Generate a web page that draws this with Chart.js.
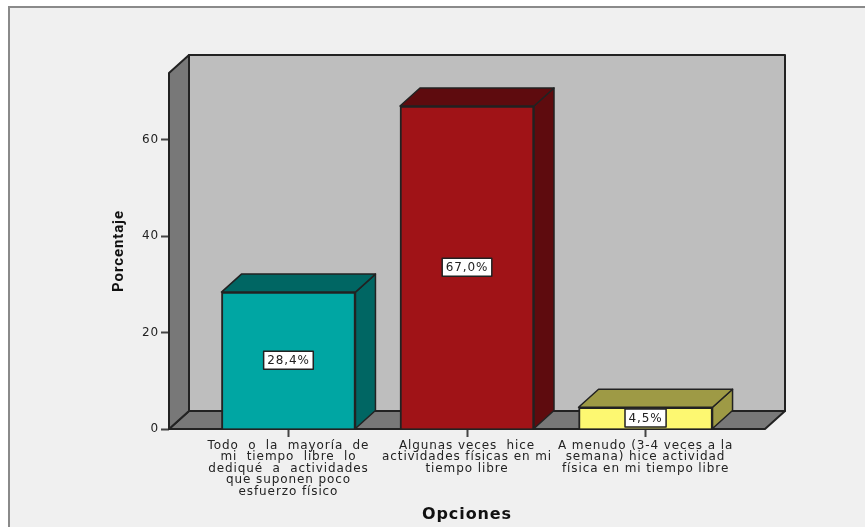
<!DOCTYPE html>
<html>
<head>
<meta charset="utf-8">
<title>Opciones</title>
<script src="https://cdn.jsdelivr.net/npm/chart.js@4"></script>
<style>
  html, body { margin: 0; padding: 0; background: #fff; }
  #frame { position: absolute; left: 8px; top: 6px; width: 857px; height: 521px; box-sizing: border-box;
           background: #f0f0f0; border-left: 2px solid #8a8a8a; border-top: 2px solid #8a8a8a; }
  canvas { position: absolute; left: 0; top: 0; }
</style>
</head>
<body>
<div id="frame"></div>
<canvas id="chart" width="865" height="527"></canvas>
<script>
// values
const categories = [
  ['Todo  o  la  mayoría  de', 'mi  tiempo  libre  lo', 'dediqué  a  actividades', 'que suponen poco', 'esfuerzo físico'],
  ['Algunas veces  hice', 'actividades físicas en mi', 'tiempo libre'],
  ['A menudo (3-4 veces a la', 'semana) hice actividad', 'física en mi tiempo libre']
];
const positions = [1, 2, 3];
const percentages = [28.4, 67.0, 4.5];
const frontColors = ['#00a6a3', '#a01317', '#fdf871'];
const darkColors = ['#006663', '#5e0b0e', '#9e9a45'];
const yTicks = [0, 20, 40, 60];

const DEPTH_X = 20, DEPTH_Y = 18;
const LINE = '#222222';

function poly(ctx, pts, fill) {
  ctx.beginPath();
  pts.forEach((p, i) => i ? ctx.lineTo(p[0], p[1]) : ctx.moveTo(p[0], p[1]));
  ctx.closePath();
  ctx.fillStyle = fill;
  ctx.fill();
  ctx.stroke();
}

// SPSS style 3D box: walls behind the bars, sides and tops on the bars
const box3d = {
  id: 'box3d',
  beforeDraw(chart) {
    // the original text is set wide
    chart.ctx.letterSpacing = '0.9px';
  },
  beforeDatasetsDraw(chart) {
    const { ctx, chartArea: a } = chart;
    const dx = DEPTH_X, dy = DEPTH_Y;
    ctx.save();
    ctx.strokeStyle = LINE;
    ctx.lineWidth = 2;
    ctx.lineJoin = 'round';
    poly(ctx, [[a.left + dx, a.top - dy], [a.right + dx, a.top - dy], [a.right + dx, a.bottom - dy], [a.left + dx, a.bottom - dy]], '#bebebe');
    poly(ctx, [[a.left, a.bottom], [a.right, a.bottom], [a.right + dx, a.bottom - dy], [a.left + dx, a.bottom - dy]], '#787878');
    poly(ctx, [[a.left, a.bottom], [a.left, a.top], [a.left + dx, a.top - dy], [a.left + dx, a.bottom - dy]], '#787878');
    ctx.restore();
  },
  afterDatasetsDraw(chart) {
    const { ctx } = chart;
    const dx = DEPTH_X, dy = DEPTH_Y;
    ctx.save();
    ctx.strokeStyle = LINE;
    ctx.lineWidth = 1.5;
    ctx.lineJoin = 'round';
    chart.getDatasetMeta(0).data.forEach((bar, i) => {
      const l = bar.x - bar.width / 2, r = bar.x + bar.width / 2;
      poly(ctx, [[r, bar.base], [r, bar.y], [r + dx, bar.y - dy], [r + dx, bar.base - dy]], darkColors[i]);
      poly(ctx, [[l, bar.y], [r, bar.y], [r + dx, bar.y - dy], [l + dx, bar.y - dy]], darkColors[i]);
    });
    // value boxes
    ctx.font = '12px "DejaVu Sans"';
    ctx.textAlign = 'center';
    ctx.textBaseline = 'middle';
    chart.getDatasetMeta(0).data.forEach((bar, i) => {
      const text = percentages[i].toFixed(1).replace('.', ',') + '%';
      const cy = (bar.y + bar.base) / 2;
      const w = ctx.measureText(text).width + 7;
      ctx.fillStyle = '#fff';
      ctx.fillRect(bar.x - w / 2, cy - 9, w, 18);
      ctx.lineWidth = 1.5;
      ctx.strokeRect(bar.x - w / 2, cy - 9, w, 18);
      ctx.fillStyle = '#222';
      ctx.fillText(text, bar.x, cy + 0.5);
    });
    ctx.restore();
  }
};

new Chart(document.getElementById('chart'), {
  type: 'bar',
  data: {
    datasets: [{
      data: positions.map((x, i) => ({ x, y: percentages[i] })),
      backgroundColor: frontColors,
      borderColor: LINE,
      borderWidth: 2,
      barThickness: 134
    }]
  },
  options: {
    responsive: false,
    animation: false,
    layout: { padding: { top: 73, right: 100, left: 0, bottom: 0 } },
    plugins: { legend: { display: false }, tooltip: { enabled: false } },
    scales: {
      x: {
        type: 'linear',
        offset: false,
        min: 0.331,
        max: 3.669,
        afterBuildTicks(scale) { scale.ticks = positions.map(value => ({ value })); },
        afterFit(scale) { scale.height = 98; },
        grid: { offset: false, drawOnChartArea: false, color: '#444', tickLength: 8, tickWidth: 2 },
        border: { display: false },
        ticks: {
          autoSkip: false,
          maxRotation: 0,
          padding: 3,
          color: '#222',
          font: { family: '"DejaVu Sans"', size: 12, lineHeight: 0.96 },
          callback: v => categories[v - 1]
        },
        title: {
          display: true,
          text: 'Opciones',
          color: '#111',
          font: { family: '"DejaVu Sans"', size: 16, weight: 'bold' },
          padding: { top: 0, bottom: 3 }
        }
      },
      y: {
        min: 0,
        max: 73.86,
        afterBuildTicks(scale) { scale.ticks = yTicks.map(value => ({ value })); },
        afterFit(scale) { scale.width = 169; },
        grid: { drawOnChartArea: false, color: '#444', tickLength: 8, tickWidth: 2 },
        border: { display: false },
        ticks: { color: '#222', padding: 2, font: { family: '"DejaVu Sans"', size: 12 } },
        title: {
          display: true,
          text: 'Porcentaje',
          color: '#111',
          font: { family: 'Roboto', size: 15, weight: 'bold' },
          padding: { top: 110, bottom: 0 }
        }
      }
    }
  },
  plugins: [box3d]
});
</script>
</body>
</html>
